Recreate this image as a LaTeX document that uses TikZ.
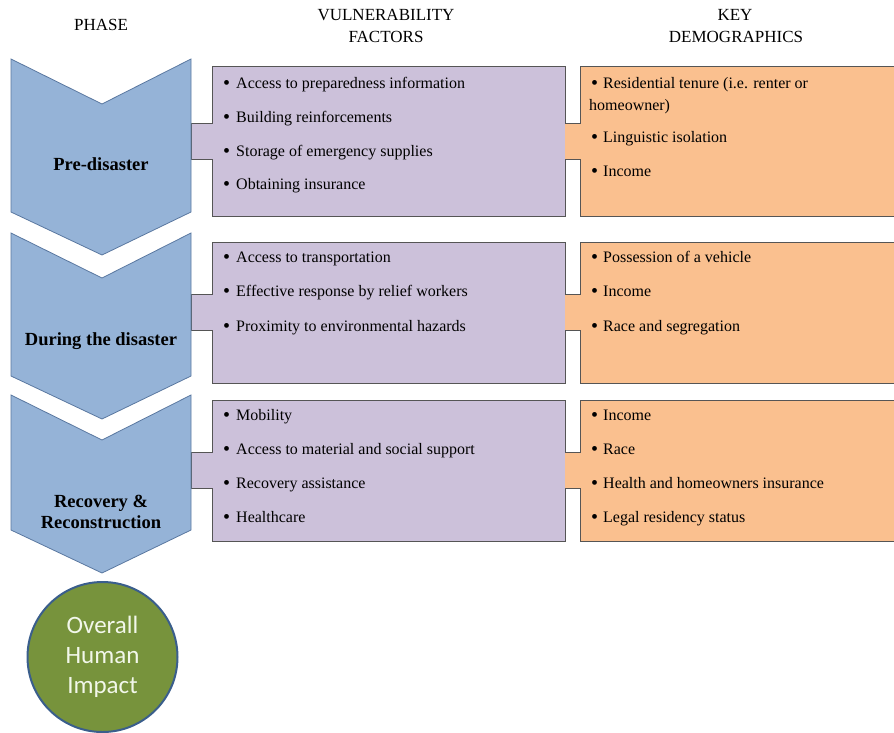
\documentclass[tikz,border=0pt]{standalone}
\usepackage{fontspec}
\setmainfont{Liberation Serif}
\newfontfamily\impactfont{Carlito}
\usepackage{xcolor}
\definecolor{phasefill}{HTML}{95B3D7}
\definecolor{phaseline}{HTML}{5A78A0}
\definecolor{vulfill}{HTML}{CCC1DA}
\definecolor{demofill}{HTML}{FAC08F}
\definecolor{boxline}{HTML}{555555}
\definecolor{impactfill}{HTML}{77933C}
\definecolor{impactline}{HTML}{3A5E8C}
\definecolor{impacttext}{HTML}{F2F7EA}
\newcommand{\bigdot}{\raisebox{-1pt}{\fontsize{20}{20}\selectfont\textbullet}}

\begin{document}
\begin{tikzpicture}[x=1pt,y=-1pt,
  phase/.style={fill=phasefill,draw=phaseline,line width=0.8pt},
  vul/.style={fill=vulfill,draw=boxline,line width=0.8pt},
  head/.style={anchor=base,inner sep=0,font=\fontsize{17}{20}\selectfont},
  phasetext/.style={anchor=base,inner sep=0,font=\fontsize{18.5}{22}\selectfont\bfseries},
  item/.style={anchor=base west,inner sep=0,font=\fontsize{16}{19}\selectfont,
    execute at begin node={\bigdot\hspace{#1}}},
  impact/.style={circle,fill=impactfill,draw=impactline,line width=2pt,minimum size=150pt,
    align=center,text=impacttext,font=\impactfont\fontsize{25}{30}\selectfont}]
\useasboundingbox (0,0) rectangle (894,732);

\node[head] (hphase) at (101,30) {PHASE};
\node[head] (hvul) at (386,20) {VULNERABILITY};
\node[head] (hvul2) at (386,42) {FACTORS};
\node[head] (hdemo) at (735,20) {KEY};
\node[head] (hdemo2) at (736,42) {DEMOGRAPHICS};

\foreach \t/\b/\m in {66/216/141,242/383/312,400/541/470}{
\draw[vul] (191,\m-18) -- (212,\m-18) -- (212,\t) -- (565,\t) -- (565,\b) -- (212,\b) -- (212,\m+18) -- (191,\m+18) -- cycle;
\fill[demofill] (565,\m-18) -- (580,\m-18) -- (580,\t) -- (894,\t) -- (894,\b) -- (580,\b) -- (580,\m+18) -- (565,\m+18) -- cycle;
\draw[boxline,line width=0.8pt] (565,\m-18) -- (580,\m-18) -- (580,\t) -- (894,\t);
\draw[boxline,line width=0.8pt] (894,\b) -- (580,\b) -- (580,\m+18) -- (565,\m+18);}

\foreach \t/\b in {59/212,233/376,395/530}{
\draw[phase] (11,\t) -- (102,\t+45) -- (191,\t) -- (191,\b) -- (102,\b+43) -- (11,\b) -- cycle;}

\node[phasetext] (pre) at (101,170) {Pre-disaster};
\node[phasetext] (during) at (101,345) {During the disaster};
\node[phasetext] (recov) at (101,507) {Recovery \&};
\node[phasetext] (recov2) at (101,528) {Reconstruction};

\foreach \y/\t [count=\i] in {88/Access to preparedness information,122/Building reinforcements,
  156/Storage of emergency supplies,189/Obtaining insurance,262/Access to transportation,
  296/Effective response by relief workers,331/Proximity to environmental hazards,
  420/Mobility,454/Access to material and social support,488/Recovery assistance,522/Healthcare}{
\node[item=6pt] (v\i) at (223,\y) {\t};}

\foreach \y/\t [count=\i] in {88/Residential tenure (i.e. renter or,142/Linguistic isolation,176/Income,
  262/Possession of a vehicle,296/Income,331/Race and segregation,
  420/Income,454/Race,488/Health and homeowners insurance,522/Legal residency status}{
\node[item=5pt] (d\i) at (591,\y) {\t};}
\node[anchor=base west,inner sep=0,font=\fontsize{16}{19}\selectfont] (d1b) at (589,110) {homeowner)};

\node[impact] (impact) at (102.5,657) {Overall\\Human\\Impact};
\end{tikzpicture}
\end{document}
